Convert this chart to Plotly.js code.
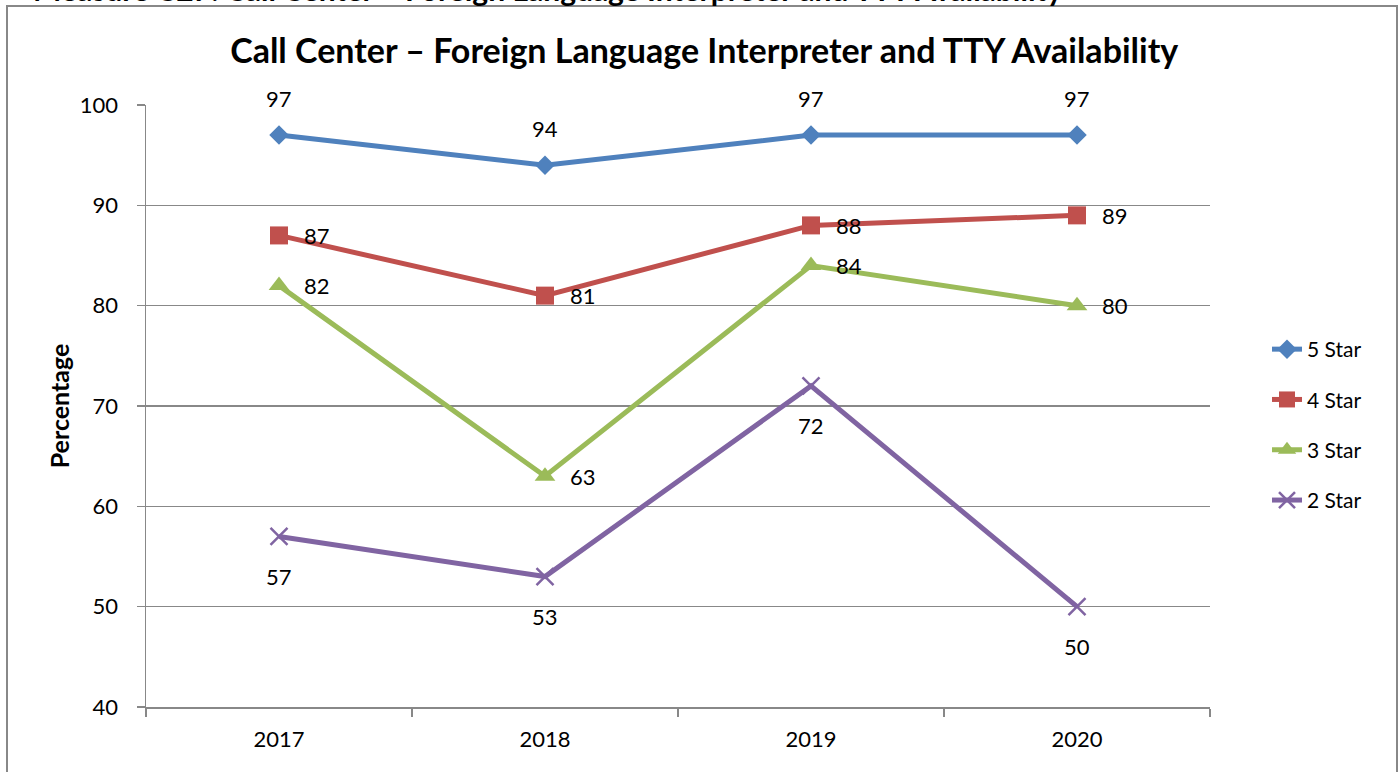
<!DOCTYPE html>
<html>
<head>
<meta charset="utf-8">
<script src="https://cdn.plot.ly/plotly-3.0.1.min.js"></script>
<style>html,body{margin:0;padding:0;background:#fff;}#chart{width:1400px;height:772px;}</style>
</head>
<body>
<div id="chart"></div>
<script>
const years = ["2017", "2018", "2019", "2020"];
const seriesNames = ["5 Star", "4 Star", "3 Star", "2 Star"];
const star5 = [97, 94, 97, 97];
const star4 = [87, 81, 88, 89];
const star3 = [82, 63, 84, 80];
const star2 = [57, 53, 72, 50];
const yTicks = [40, 50, 60, 70, 80, 90, 100];

const colors = ["#4F81BD", "#C0504D", "#9BBB59", "#8064A2"];
const symbols = ["diamond", "square", "triangle-up", "x-thin"];
const msizes = [15, 18, 18, 17];
const allSeries = [star5, star4, star3, star2];
// label offsets (pixels) per series: [xshift, yshift]
const labelShift = [[0, 37], [38, 0], [38, 0], [0, -40]];

const FONT = "Lato, 'Open Sans', sans-serif";

const traces = allSeries.map((vals, i) => ({
  type: "scatter",
  mode: "lines+markers",
  name: seriesNames[i],
  legendgroup: "g" + i,
  x: years,
  y: vals,
  line: {color: colors[i], width: 5},
  marker: {
    symbol: symbols[i],
    size: msizes[i],
    color: colors[i],
    line: {color: colors[i], width: symbols[i] === "x-thin" ? 2.5 : 0}
  },
  hoverinfo: "skip"
}));

const annotations = [];
allSeries.forEach((vals, i) => {
  vals.forEach((v, j) => {
    annotations.push({
      x: j, y: v, xref: "x", yref: "y",
      text: String(v), showarrow: false,
      xshift: labelShift[i][0], yshift: labelShift[i][1],
      font: {family: FONT, size: 22, color: "#000"}
    });
  });
});
// cut-off heading at top of the image (only its lower edge is visible in the reference)
annotations.push({
  xref: "paper", yref: "paper",
  x: (31 - 146) / 1064, y: (707 - 9) / 602,
  xanchor: "left", yanchor: "bottom",
  text: "<b>Measure C27: Call Center – Foreign Language Interpreter and TTY Availability</b>",
  showarrow: false,
  font: {family: FONT, size: 30, color: "#000"}
});

const layout = {
  width: 1400, height: 772,
  paper_bgcolor: "#fff", plot_bgcolor: "#fff",
  margin: {l: 146, r: 190, t: 105, b: 65},
  font: {family: FONT, color: "#000"},
  title: {
    text: "<b>Call Center – Foreign Language Interpreter and TTY Availability</b>",
    font: {family: FONT, size: 34, color: "#000"},
    x: 0.503, xref: "container", xanchor: "center",
    y: 1 - 51 / 772, yref: "container", yanchor: "middle"
  },
  xaxis: {
    type: "category",
    range: [-0.5, 3.5],
    tickson: "boundaries",
    ticks: "outside", ticklen: 8, tickwidth: 1.5, tickcolor: "#888",
    showline: true, linecolor: "#888", linewidth: 1.5,
    showgrid: false, zeroline: false,
    ticklabelstandoff: 12,
    tickfont: {family: FONT, size: 22, color: "#000"},
    fixedrange: true
  },
  yaxis: {
    range: [40, 100],
    tickvals: yTicks,
    ticktext: yTicks.map(String),
    ticks: "outside", ticklen: 8, tickwidth: 1.5, tickcolor: "#888",
    showline: true, linecolor: "#888", linewidth: 1.5,
    showgrid: true, gridcolor: "#888", gridwidth: 1.5,
    zeroline: false,
    ticklabelstandoff: 14,
    tickfont: {family: FONT, size: 22, color: "#000"},
    title: {text: "<b>Percentage</b>", font: {family: FONT, size: 25, color: "#000"}, standoff: 3},
    fixedrange: true
  },
  legend: {
    x: (1267 - 146) / 1064, xanchor: "left",
    y: (707 - 425) / 602, yanchor: "middle",
    font: {family: FONT, size: 21, color: "#000"},
    tracegroupgap: 20,
    bgcolor: "rgba(0,0,0,0)"
  },
  showlegend: true,
  annotations: annotations,
  shapes: [{
    type: "rect", xref: "paper", yref: "paper",
    x0: (7 - 146) / 1064, x1: (1397 - 146) / 1064,
    y0: (707 - 790) / 602, y1: (707 - 6) / 602,
    line: {color: "#888", width: 2}, fillcolor: "rgba(0,0,0,0)", layer: "below"
  }]
};

Plotly.newPlot("chart", traces, layout, {displayModeBar: false, staticPlot: true});
</script>
</body>
</html>
